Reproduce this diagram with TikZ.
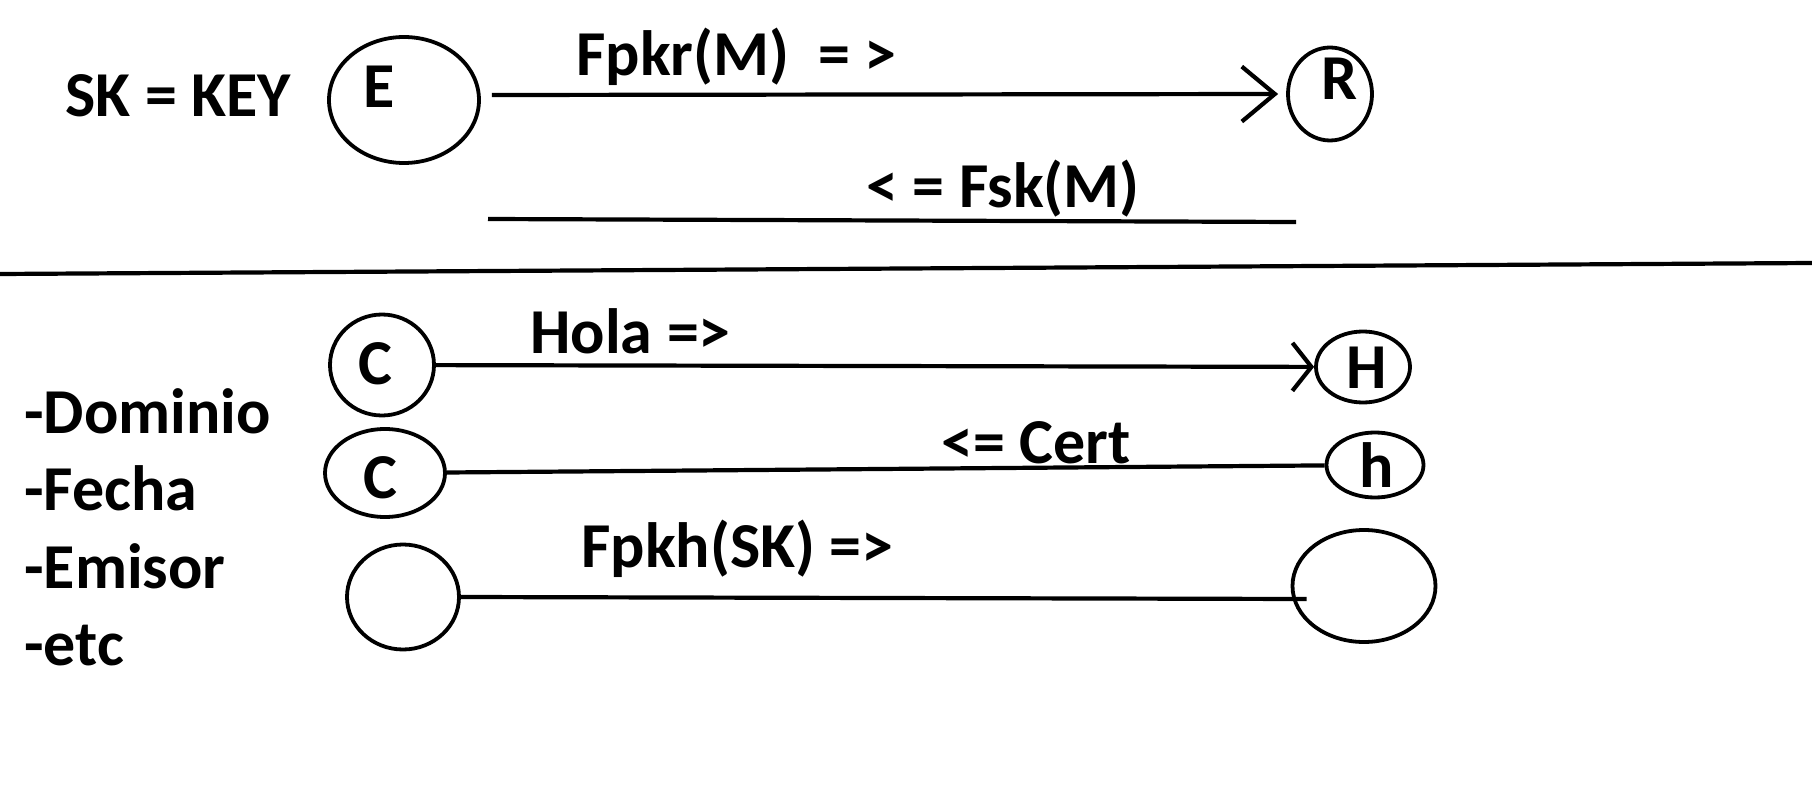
\documentclass[tikz,border=0pt]{standalone}
\usepackage{fontspec}
\setmainfont{Carlito}
\usetikzlibrary{shapes.geometric,arrows.meta}

\begin{document}
\begin{tikzpicture}[x=0.5pt,y=-0.5pt,
  oval/.style={draw,ellipse,line width=1.9pt,inner sep=0pt},
  txt/.style={anchor=base west,inner sep=0pt,font=\fontsize{32}{38}\selectfont\bfseries},
  msg/.style={line width=2.1pt}]
  \useasboundingbox (0,0) rectangle (1812,808);

  % parte de arriba (E -> R)
  \node[txt] (sk) at (65,117) {SK = KEY};
  \node[oval,minimum width=75pt,minimum height=63pt] (E) at (404,100) {};
  \node[txt] (e-lab) at (363,108) {E};
  \node[oval,minimum width=42pt,minimum height=46.5pt] (R) at (1330,94) {};
  \node[txt] (r-lab) at (1321,100) {R};
  \draw[msg,-{Straight Barb[length=16.5pt,width=27.5pt]}] ([shift={(5.5pt,2.5pt)}]E.east) -- ([xshift=-4pt]R.west);
  \node[txt] (fpkr) at (576,76) {Fpkr(M)\ \ = >};

  % respuesta Fsk(M)
  \coordinate (fsk-a) at (488,219);
  \coordinate (fsk-b) at (1296,222);
  \draw[msg] (fsk-a) -- (fsk-b);
  \node[txt] (fsk) at (866,208) {< = Fsk(M)};

  % linea separadora
  \coordinate (sep-a) at (0,274);
  \coordinate (sep-b) at (1812,263);
  \draw[msg] (sep-a) -- (sep-b);

  % lista del certificado
  \node[txt] (dominio) at (24,433) {-Dominio};
  \node[txt] (fecha) at (24,510) {-Fecha};
  \node[txt] (emisor) at (24,588) {-Emisor};
  \node[txt] (etc) at (24,665) {-etc};

  % C -> H (Hola)
  \node[oval,minimum width=52pt,minimum height=50.5pt] (c1) at (382,365) {};
  \node[txt] (c1-lab) at (358,384) {C};
  \node[oval,minimum width=47pt,minimum height=35.5pt] (H) at (1363,367) {};
  \node[txt] (h1-lab) at (1346,388) {H};
  \draw[msg,-{Straight Barb[length=9.5pt,width=24pt]}] (c1) -- (H);
  \node[txt] (hola) at (530,353) {Hola =>};

  % h -> C (Cert)
  \node[oval,minimum width=60pt,minimum height=44pt] (c2) at (385,473) {};
  \node[txt] (c2-lab) at (363,498) {C};
  \node[oval,minimum width=48.5pt,minimum height=32.5pt] (h) at (1375,465) {};
  \node[txt] (h2-lab) at (1359,487) {h};
  \draw[msg] (c2) -- (h);
  \node[txt] (cert) at (941,463) {<= Cert};

  % Fpkh(SK)
  \node[oval,minimum width=56pt,minimum height=52.5pt] (c3) at (403,597) {};
  \node[oval,minimum width=71.5pt,minimum height=56pt] (s4) at (1364,586) {};
  \draw[msg] (c3.east) -- ([shift={(8pt,-6.5pt)}]s4.west);
  \node[txt] (fpkh) at (581,567) {Fpkh(SK) =>};
\end{tikzpicture}
\end{document}
